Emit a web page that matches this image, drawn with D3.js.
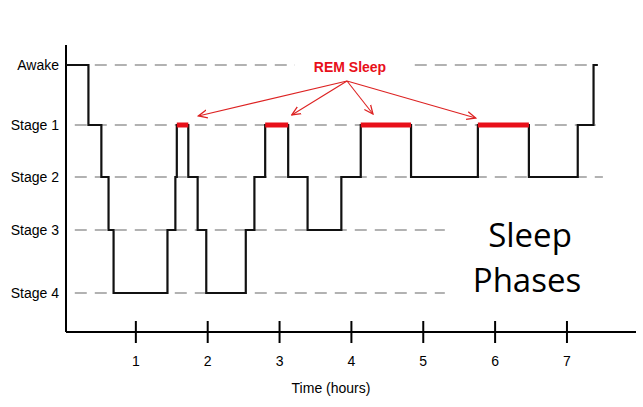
<!DOCTYPE html><html><head><meta charset="utf-8">
<script src="https://cdn.jsdelivr.net/npm/d3@7"></script>
<style>body{margin:0;background:#fff}</style></head><body>
<svg id="c" width="643" height="407"></svg>
<script>
const stageLabels=["Awake","Stage 1","Stage 2","Stage 3","Stage 4"];
const xTicks=[1,2,3,4,5,6,7];
const stepTimes=[0.03,0.34,0.52,0.62,0.69,1.44,1.55,1.57,1.73,1.86,1.98,2.53,2.65,2.80,3.12,3.39,3.86,4.13,4.83,5.76,6.47,7.15,7.37];
const stepStages=[0,1,2,3,4,3,2,1,2,3,4,3,2,1,2,3,2,1,2,1,2,1,0];
const remStart=[1.57,2.80,4.13,5.76];
const remEnd=[1.73,3.12,4.83,6.47];
const gridEnd=[7.4,7.4,7.5,5.3,5.3];

const svg=d3.select("#c");
const x=d3.scaleLinear().domain([0,8.1]).range([64,646]);
const y=d3.scaleOrdinal().domain(d3.range(5)).range([65,125,177,230,293]);
svg.append("g").selectAll("line").data(d3.range(5)).join("line")
 .attr("x1",x(0.15)).attr("x2",(d)=>x(gridEnd[d])).attr("y1",d=>y(d)).attr("y2",d=>y(d))
 .attr("stroke","#999").attr("stroke-width",1.5).attr("stroke-dasharray","12,8");
svg.append("rect").attr("x",295).attr("y",55).attr("width",118).attr("height",22).attr("fill","#fff");
svg.append("g").selectAll("text").data(stageLabels).join("text")
 .attr("x",59).attr("y",(d,i)=>y(i)+5).attr("text-anchor","end")
 .attr("font-family","Liberation Sans, Arial").attr("font-size",14).text(d=>d);
svg.append("line").attr("x1",66).attr("x2",66).attr("y1",45).attr("y2",332).attr("stroke","#000").attr("stroke-width",2);
svg.append("line").attr("x1",66).attr("x2",636).attr("y1",332).attr("y2",332).attr("stroke","#000").attr("stroke-width",2);
svg.append("g").selectAll("line").data(xTicks).join("line")
 .attr("x1",d=>x(d)).attr("x2",d=>x(d)).attr("y1",321).attr("y2",343).attr("stroke","#000").attr("stroke-width",2);
svg.append("g").selectAll("text").data(xTicks).join("text")
 .attr("x",d=>x(d)).attr("y",366).attr("text-anchor","middle")
 .attr("font-family","Liberation Sans, Arial").attr("font-size",14).text(d=>d);
svg.append("text").attr("x",331).attr("y",393).attr("text-anchor","middle")
 .attr("font-family","Liberation Sans, Arial").attr("font-size",14).text("Time (hours)");
const pts=stepTimes.map((t,i)=>[t,stepStages[i]]);
pts.push([7.37,0]); pts.push([7.43,0]);
const line=d3.line().x(d=>x(d[0])).y(d=>y(d[1])).curve(d3.curveStepAfter);
svg.append("path").attr("d",line(pts)).attr("fill","none").attr("stroke","#111").attr("stroke-width",2.2);
svg.append("g").selectAll("line").data(remStart).join("line")
 .attr("x1",d=>x(d)).attr("x2",(d,i)=>x(remEnd[i])).attr("y1",y(1)).attr("y2",y(1))
 .attr("stroke","#e8101a").attr("stroke-width",5);
svg.append("defs").append("marker").attr("id","ah").attr("viewBox","0 0 10 10").attr("refX",9).attr("refY",5)
 .attr("markerWidth",9).attr("markerHeight",9).attr("orient","auto")
 .append("path").attr("d","M0,1 L9,5 L0,9").attr("fill","none").attr("stroke","#d22").attr("stroke-width",1.3);
const targets=[[1.87,116],[3.17,115],[4.3,114],[5.73,118]];
svg.append("g").selectAll("line").data(targets).join("line")
 .attr("x1",347).attr("y1",81).attr("x2",d=>x(d[0])).attr("y2",d=>d[1])
 .attr("stroke","#d22").attr("stroke-width",1.1).attr("marker-end","url(#ah)");
svg.append("text").attr("x",350).attr("y",72).attr("text-anchor","middle").attr("fill","#e8101a")
 .attr("font-family","Liberation Sans, Arial").attr("font-weight","bold").attr("font-size",14).text("REM Sleep");
svg.append("text").attr("x",530).attr("y",247).attr("text-anchor","middle")
 .attr("font-family","Open Sans, Liberation Sans").attr("font-size",33).text("Sleep");
svg.append("text").attr("x",527).attr("y",292).attr("text-anchor","middle")
 .attr("font-family","Open Sans, Liberation Sans").attr("font-size",33).text("Phases");
</script></body></html>
